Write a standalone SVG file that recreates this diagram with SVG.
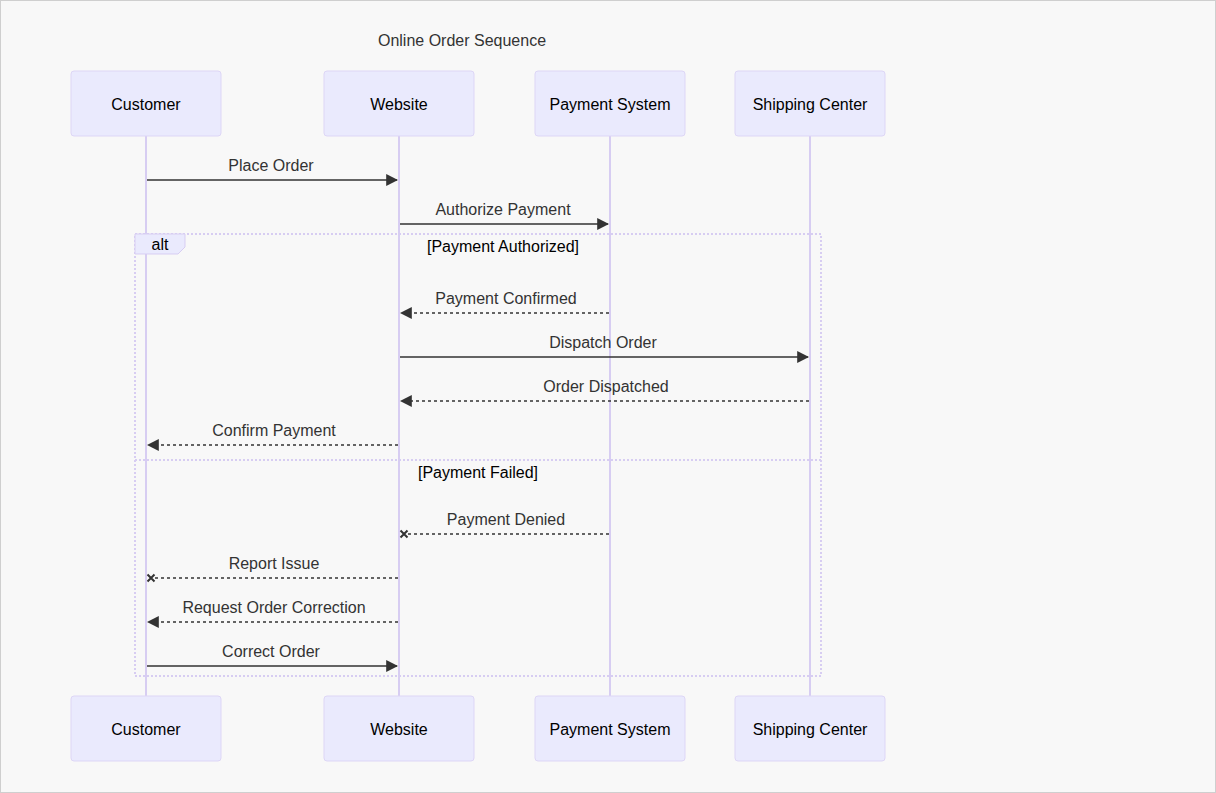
<svg xmlns="http://www.w3.org/2000/svg" width="1216" height="793" viewBox="0 0 1216 793">
<style>
text{font-family:"Liberation Sans",Arial,sans-serif;}
.actor rect{fill:#eaeafd;stroke:#ddd6f6;stroke-width:1;}
.actor text{font-size:16px;fill:#000;text-anchor:middle;dominant-baseline:central;}
.life{stroke:#d7cdf2;stroke-width:2;}
.msg{stroke:#333;stroke-width:1.5;fill:none;}
.dash{stroke-dasharray:3,3;}
.mt{font-size:16px;fill:#333;text-anchor:middle;}
.loop{stroke:#d7cdf2;stroke-width:2;stroke-dasharray:2,2;fill:none;}
.lt{font-size:16px;fill:#000;text-anchor:middle;}
</style>
<defs>
<marker id="arrow" viewBox="0 0 10 10" refX="9" refY="5" markerWidth="12" markerHeight="12" markerUnits="userSpaceOnUse" orient="auto">
<path d="M0,0 L10,5 L0,10 z" fill="#333"/>
</marker>
<marker id="cross" viewBox="0 0 11 11" refX="5.5" refY="5.5" markerWidth="11" markerHeight="11" markerUnits="userSpaceOnUse" orient="auto">
<path d="M2,2 L9,9 M2,9 L9,2" stroke="#333" stroke-width="2"/>
</marker>
</defs>
<rect x="0.5" y="0.5" width="1215" height="792" fill="#f8f8f8" stroke="#cfcfcf"/>
<text x="462" y="46" style="font-size:16px;fill:#333;text-anchor:middle">Online Order Sequence</text>
<g id="lifelines">
<line class="life" x1="146" y1="136" x2="146" y2="696"/>
<line class="life" x1="399" y1="136" x2="399" y2="696"/>
<line class="life" x1="610" y1="136" x2="610" y2="696"/>
<line class="life" x1="810" y1="136" x2="810" y2="696"/>
</g>
<g id="actor-customer" class="actor"><rect x="71" y="71" width="150" height="65" rx="3"/><text x="146" y="104">Customer</text></g>
<g id="actor-website" class="actor"><rect x="324" y="71" width="150" height="65" rx="3"/><text x="399" y="104">Website</text></g>
<g id="actor-payment" class="actor"><rect x="535" y="71" width="150" height="65" rx="3"/><text x="610" y="104">Payment System</text></g>
<g id="actor-shipping" class="actor"><rect x="735" y="71" width="150" height="65" rx="3"/><text x="810" y="104">Shipping Center</text></g>
<g id="actor-customer-bottom" class="actor"><rect x="71" y="696" width="150" height="65" rx="3"/><text x="146" y="729">Customer</text></g>
<g id="actor-website-bottom" class="actor"><rect x="324" y="696" width="150" height="65" rx="3"/><text x="399" y="729">Website</text></g>
<g id="actor-payment-bottom" class="actor"><rect x="535" y="696" width="150" height="65" rx="3"/><text x="610" y="729">Payment System</text></g>
<g id="actor-shipping-bottom" class="actor"><rect x="735" y="696" width="150" height="65" rx="3"/><text x="810" y="729">Shipping Center</text></g>
<g id="alt-frame">
<rect class="loop" x="135" y="234" width="686" height="442"/>
<line class="loop" x1="135" y1="460" x2="821" y2="460"/>
<path d="M135,234 L185,234 L185,247 L178,254 L135,254 z" fill="#eaeafd" stroke="#d7cdf2" stroke-width="1"/>
<text x="160" y="250" style="font-size:16px;fill:#000;text-anchor:middle">alt</text>
<text class="lt" x="503" y="252">[Payment Authorized]</text>
<text class="lt" x="478" y="478">[Payment Failed]</text>
</g>
<g id="connectors">
<line class="msg" x1="147" y1="180" x2="397" y2="180" marker-end="url(#arrow)"/>
<text class="mt" x="271" y="171">Place Order</text>
<line class="msg" x1="400" y1="224" x2="608" y2="224" marker-end="url(#arrow)"/>
<text class="mt" x="503" y="215">Authorize Payment</text>
<line class="msg dash" x1="609" y1="313" x2="401" y2="313" marker-end="url(#arrow)"/>
<text class="mt" x="506" y="304">Payment Confirmed</text>
<line class="msg" x1="400" y1="357" x2="808" y2="357" marker-end="url(#arrow)"/>
<text class="mt" x="603" y="348">Dispatch Order</text>
<line class="msg dash" x1="809" y1="401" x2="401" y2="401" marker-end="url(#arrow)"/>
<text class="mt" x="606" y="392">Order Dispatched</text>
<line class="msg dash" x1="398" y1="445" x2="148" y2="445" marker-end="url(#arrow)"/>
<text class="mt" x="274" y="436">Confirm Payment</text>
<line class="msg dash" x1="609" y1="534" x2="404" y2="534" marker-end="url(#cross)"/>
<text class="mt" x="506" y="525">Payment Denied</text>
<line class="msg dash" x1="398" y1="578" x2="151" y2="578" marker-end="url(#cross)"/>
<text class="mt" x="274" y="569">Report Issue</text>
<line class="msg dash" x1="398" y1="622" x2="148" y2="622" marker-end="url(#arrow)"/>
<text class="mt" x="274" y="613">Request Order Correction</text>
<line class="msg" x1="147" y1="666" x2="397" y2="666" marker-end="url(#arrow)"/>
<text class="mt" x="271" y="657">Correct Order</text>
</g>
</svg>
